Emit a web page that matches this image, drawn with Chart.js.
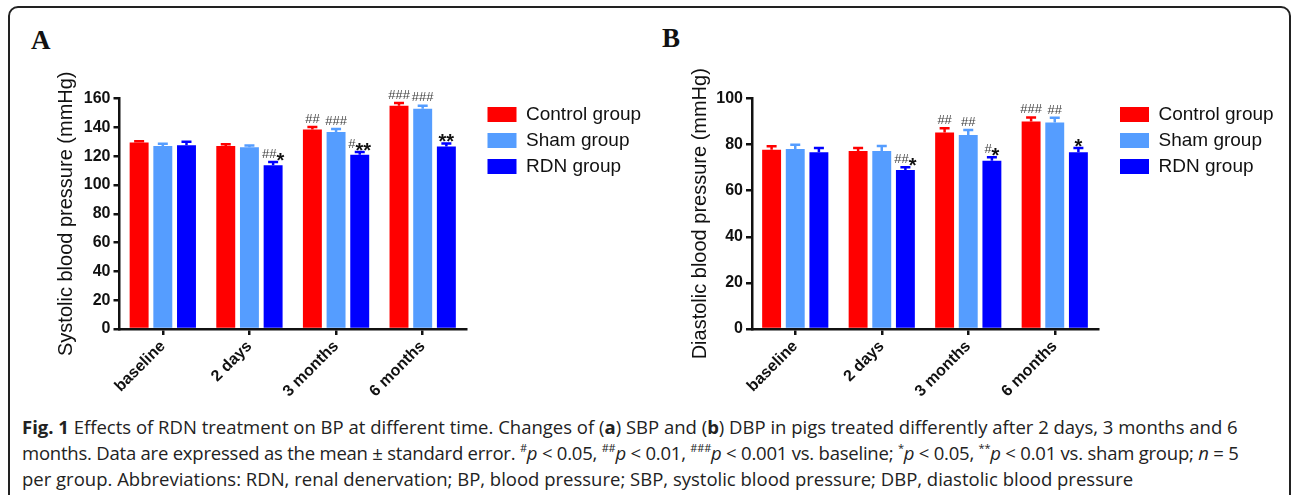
<!DOCTYPE html>
<html>
<head>
<meta charset="utf-8">
<script src="https://cdn.jsdelivr.net/npm/chart.js@4.4.1/dist/chart.umd.min.js"></script>
<style>
  body { margin: 0; background: #fff; width: 1292px; height: 495px; overflow: hidden; position: relative; }
  #frame { position: absolute; left: 8px; top: 6px; width: 1283px; height: 620px; border: 2px solid #222; border-radius: 10px; box-sizing: border-box; }
  .panel { position: absolute; top: 0; }
  .letter { position: absolute; font: bold 27px 'Liberation Serif', serif; line-height: 26px; color: #111; }
  #caption { position: absolute; left: 22px; top: 414px; font: 18.5px 'Open Sans', sans-serif; line-height: 26px; color: #222; white-space: nowrap; }
  #caption sup { font-size: 11px; vertical-align: 8px; line-height: 0; }
  #caption .tight { letter-spacing: -0.22px; }
</style>
</head>
<body>
<div id="frame"></div>
<div class="letter" style="left:31px;top:27px">A</div>
<div class="letter" style="left:662px;top:25px">B</div>
<canvas id="chartA" class="panel" style="left:0px" width="650" height="410"></canvas>
<canvas id="chartB" class="panel" style="left:640px" width="650" height="410"></canvas>
<div id="caption">
  <div><b>Fig. 1</b> Effects of RDN treatment on BP at different time. Changes of (<b>a</b>) SBP and (<b>b</b>) DBP in pigs treated differently after 2 days, 3 months and 6</div>
  <div class="tight">months. Data are expressed as the mean ± standard error. <sup>#</sup><i>p</i> &lt; 0.05, <sup>##</sup><i>p</i> &lt; 0.01, <sup>###</sup><i>p</i> &lt; 0.001 vs. baseline; <sup>*</sup><i>p</i> &lt; 0.05, <sup>**</sup><i>p</i> &lt; 0.01 vs. sham group; <i>n</i> = 5</div>
  <div>per group. Abbreviations: RDN, renal denervation; BP, blood pressure; SBP, systolic blood pressure; DBP, diastolic blood pressure</div>
</div>
<script>
const timepoints = ['baseline', '2 days', '3 months', '6 months'];
const groups = ['Control group', 'Sham group', 'RDN group'];

// A: systolic
const sbpControl = [129.4, 127.1, 138.5, 154.9];
const sbpSham = [127.1, 126.2, 136.8, 152.8];
const sbpRdn = [127.6, 113.7, 120.9, 126.6];
const sbpControlErr = [1.0, 1.2, 1.8, 2.0];
const sbpShamErr = [1.5, 1.2, 2.0, 2.2];
const sbpRdnErr = [2.4, 2.2, 2.0, 2.2];
const sbpControlMarks = ['', '', '##', '###'];
const sbpShamMarks = ['', '', '###', '###'];
const sbpRdnMarks = ['', '##*', '#**', '**'];

// B: diastolic
const dbpControl = [77.8, 77.2, 85.2, 90.0];
const dbpSham = [78.1, 77.2, 84.2, 89.6];
const dbpRdn = [76.7, 69.0, 73.0, 76.7];
const dbpControlErr = [1.5, 1.3, 1.9, 1.8];
const dbpShamErr = [1.8, 2.2, 2.1, 2.0];
const dbpRdnErr = [1.8, 1.2, 1.5, 1.8];
const dbpControlMarks = ['', '', '##', '###'];
const dbpShamMarks = ['', '', '##', '##'];
const dbpRdnMarks = ['', '##*', '#*', '*'];

const colors = ['#FF0000', '#559DFF', '#0000FF'];

Chart.defaults.font.family = "'Liberation Sans', Arial, sans-serif";
Chart.defaults.color = '#111';

// upper error bars + significance marks
const errorBars = {
  id: 'errorBars',
  afterDatasetsDraw(chart) {
    const ctx = chart.ctx;
    const y = chart.scales.y;
    chart.data.datasets.forEach((ds, i) => {
      chart.getDatasetMeta(i).data.forEach((bar, j) => {
        const top = y.getPixelForValue(ds.data[j] + ds.errors[j]);
        ctx.save();
        ctx.strokeStyle = ds.backgroundColor;
        ctx.lineWidth = 2.5;
        ctx.beginPath();
        ctx.moveTo(bar.x, bar.y);
        ctx.lineTo(bar.x, top);
        ctx.moveTo(bar.x - 5, top);
        ctx.lineTo(bar.x + 5, top);
        ctx.stroke();

        const mark = ds.marks[j];
        if (mark) {
          const hashes = mark.replace(/\*/g, '');
          const stars = mark.replace(/#/g, '');
          const hashFont = "13px 'Liberation Sans'";
          const starFont = "bold 20px 'Liberation Sans'";
          ctx.font = hashFont;
          const wh = ctx.measureText(hashes).width;
          ctx.font = starFont;
          const ws = ctx.measureText(stars).width;
          let x = bar.x - (wh + ws) / 2;
          const capTop = top - 1.25;
          ctx.textAlign = 'left';
          ctx.textBaseline = 'alphabetic';
          if (hashes) {
            ctx.font = hashFont;
            ctx.fillStyle = '#444';
            ctx.fillText(hashes, x, capTop - 3);
            x += wh;
          }
          if (stars) {
            ctx.font = starFont;
            ctx.fillStyle = '#111';
            ctx.fillText(stars, x, capTop + 6);
          }
        }
        ctx.restore();
      });
    });
  }
};

// pin the legend where the figure has it
const legendPos = {
  id: 'legendPos',
  afterLayout(chart, args, opts) {
    const lg = chart.legend;
    lg.left = opts.left;
    lg.top = opts.top;
    lg.width = 200;
    lg.height = 120;
    lg.right = opts.left + 200;
    lg.bottom = opts.top + 120;
  }
};

function makeChart(id, cfg) {
  const datasets = groups.map((g, i) => ({
    label: g,
    data: cfg.values[i],
    errors: cfg.errors[i],
    marks: cfg.marks[i],
    backgroundColor: colors[i],
    categoryPercentage: 0.82,
    barPercentage: 0.8
  }));
  return new Chart(document.getElementById(id), {
    type: 'bar',
    data: { labels: timepoints, datasets: datasets },
    options: {
      responsive: false,
      animation: false,
      layout: { padding: { left: cfg.padLeft, top: 98.5, right: cfg.padRight, bottom: 0 } },
      plugins: {
        tooltip: { enabled: false },
        legend: {
          position: 'right',
          align: 'start',
          fullSize: false,
          maxWidth: 150,
          labels: { boxWidth: 29, boxHeight: 15, padding: 7, color: '#111', font: { size: 19 } }
        },
        legendPos: { left: cfg.legendLeft, top: 98 }
      },
      scales: {
        x: {
          grid: { display: true, drawOnChartArea: false, offset: false, color: '#111', lineWidth: 2.5, tickLength: 6 },
          border: { color: '#111', width: 2.5 },
          ticks: { minRotation: 45, maxRotation: 45, color: '#111', padding: 2, font: { size: 16, weight: 'bold' } },
          afterFit: s => { s.height = 81; }
        },
        y: {
          min: 0,
          max: cfg.max,
          ticks: { stepSize: 20, color: '#111', padding: 3, font: { size: 16, weight: 'bold' } },
          grid: { display: true, drawOnChartArea: false, color: '#111', lineWidth: 2.5, tickLength: 6 },
          border: { color: '#111', width: 2.5 },
          title: { display: true, text: cfg.title, color: '#111', font: { size: 20 }, padding: { top: 4, bottom: 0 } },
          afterFit: s => { s.width = cfg.axisW; }
        }
      }
    },
    plugins: [errorBars, legendPos]
  });
}

makeChart('chartA', {
  values: [sbpControl, sbpSham, sbpRdn],
  errors: [sbpControlErr, sbpShamErr, sbpRdnErr],
  marks: [sbpControlMarks, sbpShamMarks, sbpRdnMarks],
  max: 160,
  title: 'Systolic blood pressure (mmHg)',
  padLeft: 50, axisW: 69.5, padRight: 34, legendLeft: 480.5
});

makeChart('chartB', {
  values: [dbpControl, dbpSham, dbpRdn],
  errors: [dbpControlErr, dbpShamErr, dbpRdnErr],
  marks: [dbpControlMarks, dbpShamMarks, dbpRdnMarks],
  max: 100,
  title: 'Diastolic blood pressure (mmHg)',
  padLeft: 44, axisW: 68, padRight: 42, legendLeft: 473
});
</script>
</body>
</html>
